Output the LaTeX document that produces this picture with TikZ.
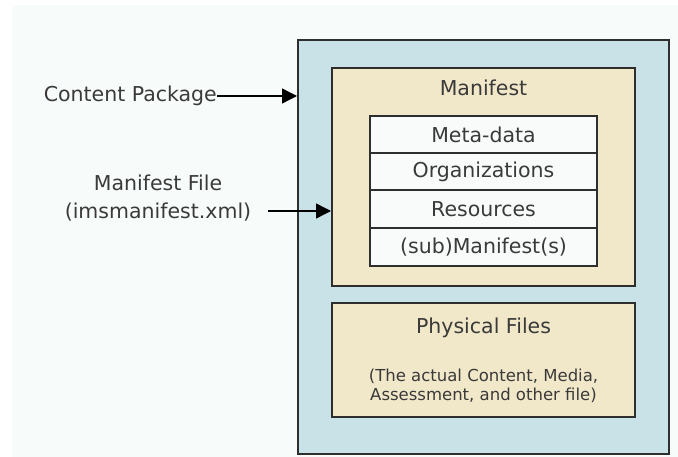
\documentclass[tikz,border=0pt]{standalone}
\usepackage{fontspec}
\setmainfont{DejaVu Sans}
\usetikzlibrary{arrows.meta}
\definecolor{bgc}{HTML}{F7FBF9}
\definecolor{bluec}{HTML}{C8E2E8}
\definecolor{tanc}{HTML}{F1E7C9}
\definecolor{rowc}{HTML}{F8FBF9}
\definecolor{txtc}{HTML}{3A3A3A}
\definecolor{linec}{HTML}{2E2E2E}
\begin{document}
\begin{tikzpicture}[x=1pt,y=-1pt,
  box/.style={draw=linec,line width=2pt,rectangle,inner sep=0pt},
  rowbox/.style={box,fill=rowc,minimum width=227pt,minimum height=37.75pt,
    font=\fontsize{20.5}{24}\selectfont,text=txtc},
  lbl/.style={inner sep=0pt,text=txtc,font=\fontsize{20.5}{28}\selectfont},
  small/.style={inner sep=0pt,text=txtc,font=\fontsize{16.5}{19}\selectfont,align=center},
  arr/.style={draw=black,line width=1.4pt,-{Triangle[length=15pt,width=15pt]}}]
\useasboundingbox (0,0) rectangle (678,457);
\fill[white] (0,0) rectangle (678,457);
\fill[bgc] (12,5) rectangle (678,457);
\node[box,fill=bluec,minimum width=371pt,minimum height=414pt] (outer) at (483.5,247) {};
\node[box,fill=tanc,minimum width=303pt,minimum height=218pt] (man) at (483.5,177) {};
\node[lbl] (mantitle) at (483.5,88) {Manifest};
\node[rowbox] (r1) at (483.5,134.5) {Meta-data};
\node[rowbox] (r2) at (483.5,172.25) {Organizations};
\node[rowbox] (r3) at (483.5,209) {Resources};
\node[rowbox] (r4) at (483.5,246.75) {(sub)Manifest(s)};
\node[box,fill=tanc,minimum width=303pt,minimum height=114pt] (phys) at (483.5,360) {};
\node[lbl] (phystitle) at (483.5,328) {Physical Files};
\node[small] (physdesc) at (483.5,385.5) {(The actual Content, Media,\\Assessment, and other file)};
\node[lbl,anchor=east] (cp) at (217,96) {Content Package};
\node[lbl,align=center] (mf) at (158,198) {Manifest File\\(imsmanifest.xml)};
\coordinate (mfs) at (268,211);
\draw[arr] (cp.east) -- (cp.east -| outer.west);
\draw[arr] (mfs) -- (mfs -| man.west);
\end{tikzpicture}
\end{document}
